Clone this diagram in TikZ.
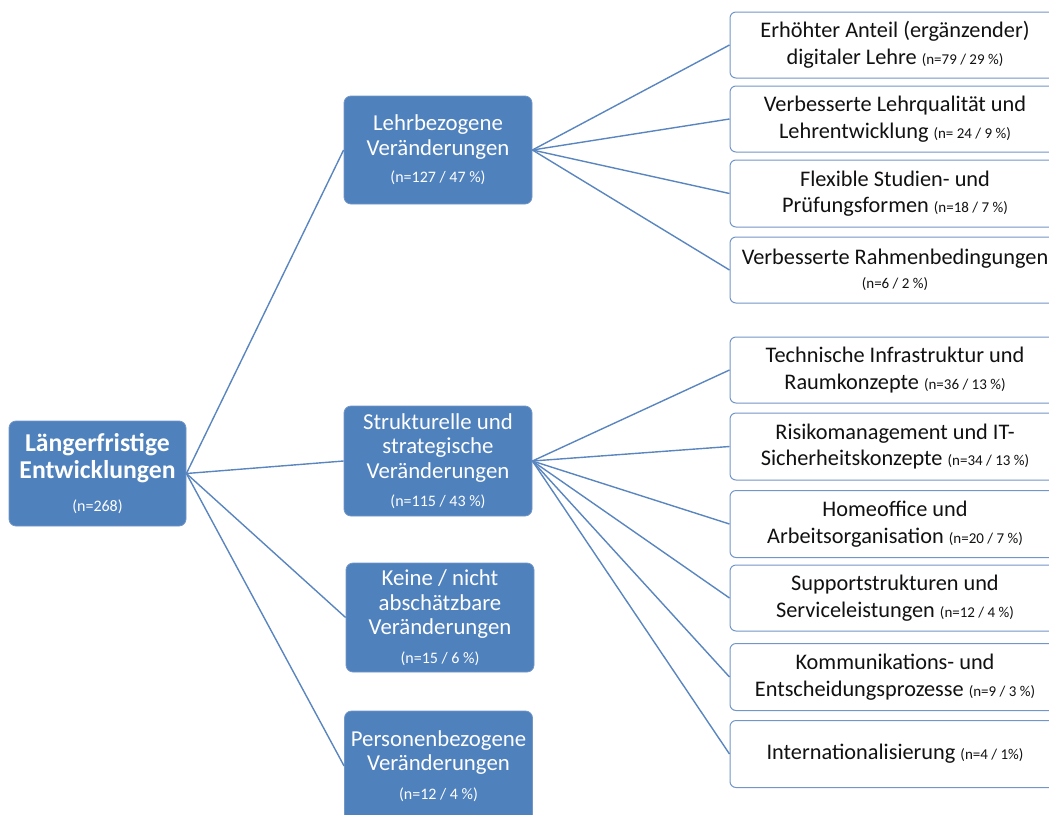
\documentclass[tikz,border=0pt]{standalone}
\usepackage{fontspec}
\setmainfont{Carlito}
\definecolor{boxblue}{HTML}{4F81BD}
\definecolor{edgeblue}{HTML}{7396C8}
\definecolor{lineblue}{HTML}{5A86C0}
\definecolor{txt}{HTML}{111111}
\tikzset{
  rootbox/.style={draw=edgeblue, line width=0.8pt, fill=boxblue, rounded corners=7pt,
    minimum width=177pt, minimum height=105pt, text=white, align=center, inner sep=0pt,
    font=\fontsize{25.7}{27}\selectfont\bfseries},
  midbox/.style={draw=edgeblue, line width=0.8pt, fill=boxblue, rounded corners=7pt,
    minimum width=188pt, minimum height=108pt, text=white, align=center, inner sep=0pt,
    font=\fontsize{22.8}{24.5}\selectfont},
  leafbox/.style={draw=edgeblue, line width=1pt, fill=white, rounded corners=6pt,
    minimum width=330pt, minimum height=66pt, text=txt, align=center, inner sep=0pt,
    font=\fontsize{22.3}{26.5}\selectfont},
  conn/.style={draw=lineblue, line width=1.4pt},
}
\newcommand{\smalln}[1]{{\fontsize{16}{17}\selectfont #1}}
\newcommand{\leafn}[1]{{\fontsize{15}{16}\selectfont #1}}
\begin{document}
\begin{tikzpicture}[x=1pt,y=-1pt]
\useasboundingbox (0,0) rectangle (1049,814);
\clip (0,0) rectangle (1049,814);
% root
\node[rootbox] (root) at (97.5,473.5) {Längerfristige\\Entwicklungen\\[6pt]{\fontsize{16}{18}\selectfont\mdseries (n=268)}};
% level 2
\node[midbox] (lehr) at (438,150) {Lehrbezogene\\Veränderungen\\[3pt]\smalln{(n=127 / 47 \%)}};
\node[midbox, minimum height=110pt] (strukt) at (438,461) {Strukturelle und\\strategische\\Veränderungen\\[4pt]\smalln{(n=115 / 43 \%)}};
\node[midbox, minimum height=109pt] (keine) at (440,617.5) {Keine / nicht\\abschätzbare\\Veränderungen\\[4pt]\smalln{(n=15 / 6 \%)}};
\node[midbox, minimum height=110pt] (person) at (438.5,766) {Personenbezogene\\Veränderungen\\[4pt]\smalln{(n=12 / 4 \%)}};
% leaves of Lehr
\node[leafbox] (l1) at (895,45) {Erhöhter Anteil (ergänzender)\\digitaler Lehre \leafn{(n=79 / 29 \%)}};
\node[leafbox] (l2) at (895,119) {Verbesserte Lehrqualität und\\Lehrentwicklung \leafn{(n= 24 / 9 \%)}};
\node[leafbox, minimum height=67pt] (l3) at (895,193.5) {Flexible Studien- und\\Prüfungsformen \leafn{(n=18 / 7 \%)}};
\node[leafbox, minimum height=66pt] (l4) at (895,270) {Verbesserte Rahmenbedingungen\\[-3pt]\leafn{(n=6 / 2 \%)}};
% leaves of Strukt
\node[leafbox] (s1) at (895,370) {Technische Infrastruktur und\\Raumkonzepte \leafn{(n=36 / 13 \%)}};
\node[leafbox, minimum height=67pt] (s2) at (895,446.5) {Risikomanagement und IT-\\Sicherheitskonzepte \leafn{(n=34 / 13 \%)}};
\node[leafbox, minimum height=67pt] (s3) at (895,524) {Homeoffice und\\Arbeitsorganisation \leafn{(n=20 / 7 \%)}};
\node[leafbox] (s4) at (895,598) {Supportstrukturen und\\Serviceleistungen \leafn{(n=12 / 4 \%)}};
\node[leafbox, minimum height=67pt] (s5) at (895,677) {Kommunikations- und\\Entscheidungsprozesse \leafn{(n=9 / 3 \%)}};
\node[leafbox, minimum height=67pt] (s6) at (895,754) {Internationalisierung \leafn{(n=4 / 1\%)}};
% connectors
\foreach \t in {lehr,strukt,keine,person} \draw[conn] (root.east) -- (\t.west);
\foreach \t in {l1,l2,l3,l4} \draw[conn] (lehr.east) -- (\t.west);
\foreach \t in {s1,s2,s3,s4,s5,s6} \draw[conn] (strukt.east) -- (\t.west);
\end{tikzpicture}
\end{document}
